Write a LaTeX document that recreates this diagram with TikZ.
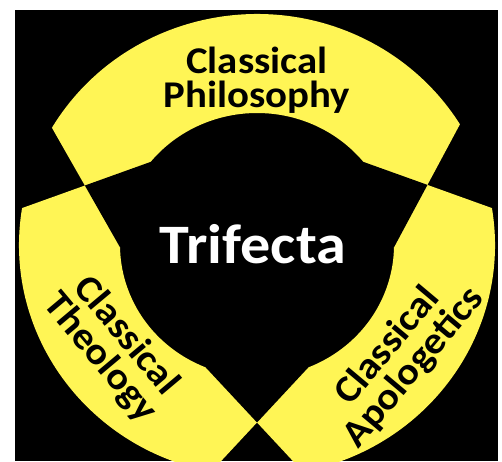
\documentclass[tikz,border=0pt]{standalone}
\usepackage{fontspec}
\setmainfont{Carlito}[FakeStretch=1.08]
\usetikzlibrary{calc}
\definecolor{triYellow}{RGB}{255,245,85}
\definecolor{triBlack}{RGB}{0,0,0}

\begin{document}
\begin{tikzpicture}[x=0.02cm,y=0.02cm]
  \tikzset{
    band/.style={fill=triYellow},
    gap/.style={fill=triBlack},
    rimout/.style={x radius=238,y radius=231},
    rimin/.style={x radius=137,y radius=132},
    arclabel/.style={font=\bfseries\fontsize{21.5}{19.3}\selectfont,text=black,align=center,inner sep=0pt},
    hublabel/.style={font=\bfseries\fontsize{31.7}{34}\selectfont,text=white,inner sep=0pt}
  }
  \useasboundingbox (0,0) rectangle (502,461);
  \fill[triBlack] (15,0) rectangle (498,451);
  \coordinate (C) at (257,216);
  % ends of the bands, outer and inner rim
  \coordinate (phl-o) at ($(C)+(149.5:238 and 231)$);
  \coordinate (phl-i) at ($(C)+(181:137 and 132)$);
  \coordinate (phr-o) at ($(C)+(31.5:238 and 231)$);
  \coordinate (phr-i) at ($(C)+(-1:137 and 132)$);
  \coordinate (tht-o) at ($(C)+(170.8:238 and 231)$);
  \coordinate (tht-i) at ($(C)+(141:137 and 132)$);
  \coordinate (thb-o) at ($(C)+(258.9:238 and 231)$);
  \coordinate (thb-i) at ($(C)+(292:137 and 132)$);
  \coordinate (apt-o) at ($(C)+(9.2:238 and 231)$);
  \coordinate (apt-i) at ($(C)+(39:137 and 132)$);
  \coordinate (apb-o) at ($(C)+(-78.9:238 and 231)$);
  \coordinate (apb-i) at ($(C)+(-112:137 and 132)$);
  \coordinate (x-left) at (intersection of phl-o--phl-i and tht-o--tht-i);
  \coordinate (x-right) at (intersection of phr-o--phr-i and apt-o--apt-i);
  \coordinate (x-bottom) at (intersection of thb-o--thb-i and apb-o--apb-i);
  \begin{scope}
    \clip (15,0) rectangle (498,451);
    \fill[band] (phl-o) arc[rimout,start angle=149.5,end angle=31.5]
      -- (phr-i) arc[rimin,start angle=-1,end angle=181] -- cycle;
    \fill[band] (tht-o) arc[rimout,start angle=170.8,end angle=258.9]
      -- (thb-i) arc[rimin,start angle=292,end angle=141] -- cycle;
    \fill[band] (apt-o) arc[rimout,start angle=9.2,end angle=-78.9]
      -- (apb-i) arc[rimin,start angle=-112,end angle=39] -- cycle;
    % where two bands cross it stays black
    \fill[gap] (x-left) -- (phl-i) -- (C) -- (tht-i) -- cycle;
    \fill[gap] (x-right) -- (phr-i) -- (C) -- (apt-i) -- cycle;
    \fill[gap] (x-bottom) -- (thb-i) -- (C) -- (apb-i) -- cycle;
  \end{scope}
  \node[arclabel] (phil) at (257,381) {Classical\\Philosophy};
  \node[arclabel,rotate=-50] (theo) at (113,114) {Classical\\Theology};
  \node[arclabel,rotate=50] (apol) at (401,104) {Classical\\Apologetics};
  \node[hublabel,anchor=base] (hub) at (253,198) {Trifecta};
\end{tikzpicture}
\end{document}
